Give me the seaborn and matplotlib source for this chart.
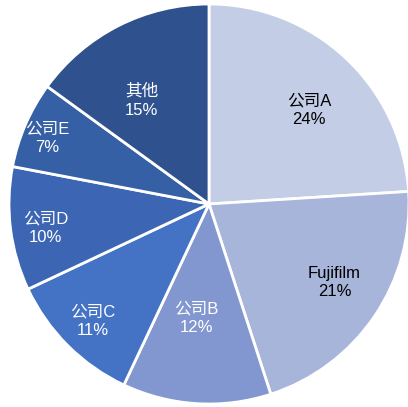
import numpy as np
import matplotlib.pyplot as plt
import seaborn as sns

sns.set_theme(style="white")
plt.rcParams["font.family"] = ["Liberation Sans", "Noto Sans CJK SC", "DejaVu Sans"]

companies = ["公司A", "Fujifilm", "公司B", "公司C", "公司D", "公司E", "其他"]
shares = [24, 21, 12, 11, 10, 7, 15]
slice_colors = ["#c3cde6", "#a8b5db", "#8297cf", "#4472c4", "#3c66b3", "#3660a6", "#2f528f"]
text_colors = ["black", "black", "white", "white", "white", "white", "white"]
# label placement (Excel "best fit" style): radius fraction and angle shift from slice middle
label_radius = [0.685, 0.74, 0.573, 0.825, 0.825, 0.875, 0.618]
label_shift = [-3.6, 2.2, -2.7, 0.1, 1.2, 1.2, 6.1]

fig = plt.figure(figsize=(4.08, 4.07), dpi=100)
ax = fig.add_axes([9 / 408, 3 / 407, 400 / 408, 400 / 407])

wedges, _ = ax.pie(shares, colors=slice_colors, startangle=90, counterclock=False,
                   radius=1, wedgeprops=dict(edgecolor="white", linewidth=2))

for w, name, val, tc, r, s in zip(wedges, companies, shares, text_colors,
                                  label_radius, label_shift):
    mid = np.deg2rad((w.theta1 + w.theta2) / 2 + s)
    ax.text(r * np.cos(mid), r * np.sin(mid), f"{name}\n{val}%", color=tc,
            fontsize=12, ha="center", va="center", linespacing=1.3)

ax.set_xlim(-1, 1)
ax.set_ylim(-1, 1)
ax.set_aspect("equal")
ax.axis("off")
fig.savefig("out.png", dpi=100)
